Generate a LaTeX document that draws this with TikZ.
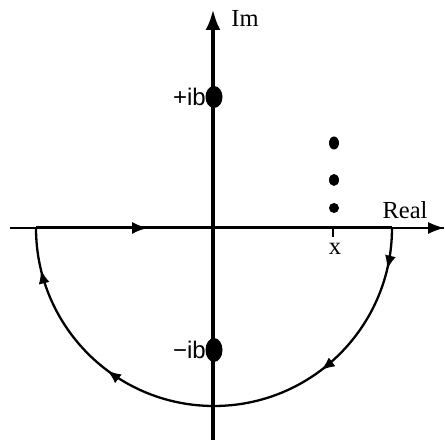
\documentclass[tikz,border=0pt]{standalone}
\usepackage{fontspec}
\setmainfont{Liberation Serif}
\newfontfamily\labsans{Liberation Sans}
\usetikzlibrary{arrows.meta,decorations.markings,shapes.geometric}
\tikzset{
  axisline/.style={line width=2.5pt},
  pole/.style={ellipse,fill=black,inner sep=0pt},
  lab/.style={font=\fontsize{24.5}{27}\selectfont,inner sep=0pt},
  sanslab/.style={font=\labsans\fontsize{24}{27}\selectfont,inner sep=0pt},
  contour/.style={line width=2.3pt,postaction={decorate}}
}
\begin{document}
\begin{tikzpicture}[x=1pt,y=1pt]
\useasboundingbox (0,0) rectangle (445,443);
% coordinates
\coordinate (vb) at (213,3);
\coordinate (vt) at (213,434);
\coordinate (hl) at (10,215);
\coordinate (hr) at (444,215);
\coordinate (cl) at (36,215);
\coordinate (cr) at (392,215);
\coordinate (tk) at (333,215);
\coordinate (tkb) at (333,206);
% axes
\draw[axisline] (hl) -- (hr);
\draw[line width=1pt,-{Latex[length=16pt,width=12pt]}] (430,215) -- (hr);
\draw[line width=4.5pt,-{Latex[length=21pt,width=15pt]}] (vb) -- (vt);
% contour along real axis
\draw[line width=3pt,postaction={decorate},
  decoration={markings,mark=at position 0.315 with {\arrow{Latex[length=16pt,width=12pt]}}}]
  (cl) -- (cr);
% semicircle
\draw[contour,decoration={markings,
   mark=at position 0.075 with {\arrow{Latex[length=14pt,width=11pt]}},
   mark=at position 0.295 with {\arrow{Latex[length=14pt,width=11pt]}},
   mark=at position 0.705 with {\arrow{Latex[length=14pt,width=11pt]}},
   mark=at position 0.925 with {\arrow{Latex[length=14pt,width=11pt]}}}]
  (cr) arc[start angle=0,end angle=-180,radius=178];
% tick
\draw[line width=1.5pt] (tk) -- (tkb);
% poles
\node[pole,minimum width=17pt,minimum height=22pt] (pb) at (214,346) {};
\node[pole,minimum width=17pt,minimum height=24pt] (mb) at (214,93) {};
\node[pole,minimum width=10pt,minimum height=13pt] (d1) at (334,300) {};
\node[pole,minimum width=10pt,minimum height=12pt] (d2) at (334,263) {};
\node[pole,minimum width=10pt,minimum height=10pt] (d3) at (334,235) {};
% labels
\node[sanslab,anchor=east] (pbl) at (206,346) {+ib};
\node[sanslab,anchor=east] (mbl) at (206,93) {\char"2212 ib};
\node[lab] (xl) at (335,194) {x};
\node[lab] (re) at (405,233) {Real};
\node[lab] (im) at (245,425) {Im};
\end{tikzpicture}
\end{document}
